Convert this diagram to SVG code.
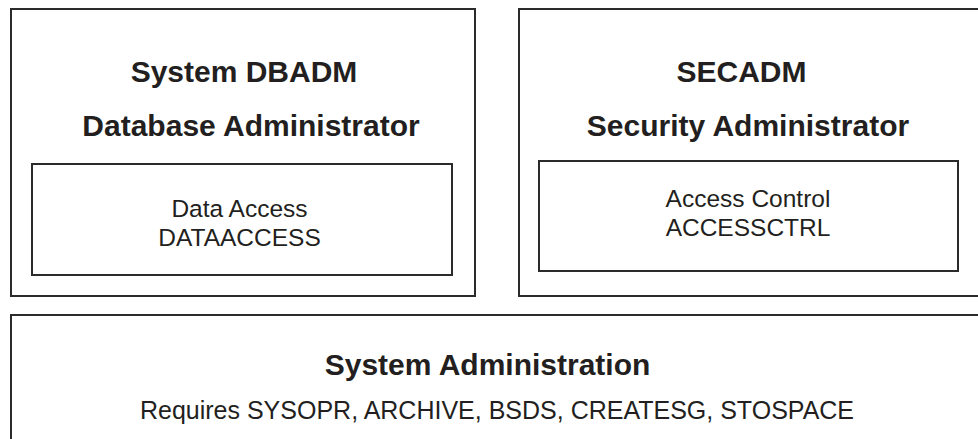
<svg xmlns="http://www.w3.org/2000/svg" width="978" height="439" viewBox="0 0 978 439">
<style>
.box{fill:#ffffff;stroke:#2b2b2b;stroke-width:2}
.t{font-family:"Liberation Sans",Arial,sans-serif;fill:#231f20;text-anchor:middle}
.b{font-weight:bold;font-size:30px}
.r{font-size:24.5px}
.r2{font-size:25px}
</style>
<rect width="978" height="439" fill="#ffffff"/>
<g id="dbadm">
<rect class="box" x="11" y="9" width="464" height="287"/>
<text class="t b" x="244" y="82">System DBADM</text>
<text class="t b" x="251" y="136">Database Administrator</text>
</g>
<g id="dataaccess">
<rect class="box" x="32" y="164" width="420" height="111"/>
<text class="t r" x="239.5" y="217">Data Access</text>
<text class="t r" x="239.5" y="246">DATAACCESS</text>
</g>
<g id="secadm">
<rect class="box" x="519" y="9" width="480" height="287"/>
<text class="t b" x="741.5" y="82">SECADM</text>
<text class="t b" x="748" y="136">Security Administrator</text>
</g>
<g id="accessctrl">
<rect class="box" x="539" y="161" width="419" height="110"/>
<text class="t r" x="748" y="207">Access Control</text>
<text class="t r" x="748" y="236">ACCESSCTRL</text>
</g>
<g id="sysadmin">
<rect class="box" x="11" y="315" width="990" height="140"/>
<text class="t b" x="487.5" y="375">System Administration</text>
<text class="t r2" x="497" y="419">Requires SYSOPR, ARCHIVE, BSDS, CREATESG, STOSPACE</text>
</g>
<g id="connectors"></g>
</svg>
